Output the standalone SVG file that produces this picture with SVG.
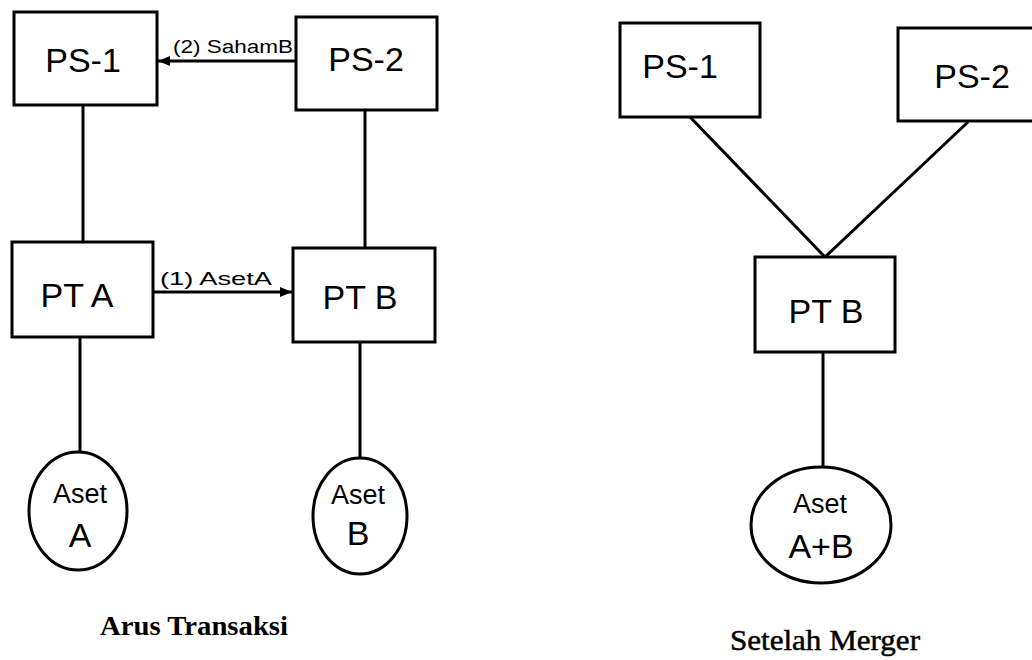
<svg xmlns="http://www.w3.org/2000/svg" width="1032" height="660" viewBox="0 0 1032 660">
<style>
.box{fill:#fff;stroke:#000;stroke-width:3}
.con{fill:none;stroke:#000;stroke-width:3}
.lbl{font-family:"Liberation Sans",Arial,sans-serif;font-size:34px;fill:#000;text-anchor:middle}
.sm{font-family:"Liberation Sans",Arial,sans-serif;font-size:27px;fill:#000;text-anchor:middle}
.el{font-family:"Liberation Sans",Arial,sans-serif;font-size:18px;fill:#000}
.cap{font-family:"Liberation Serif","Times New Roman",serif;fill:#000;text-anchor:middle}
</style>
<defs>
<marker id="ah" viewBox="0 0 12 10" refX="12" refY="5" markerWidth="12" markerHeight="10" markerUnits="userSpaceOnUse" orient="auto">
<path d="M0,0 L12,5 L0,10 Z" fill="#000"/>
</marker>
</defs>
<g id="connectors">
<line class="con" x1="83" y1="105" x2="83" y2="242"/>
<line class="con" x1="365" y1="110" x2="365" y2="248"/>
<line class="con" x1="80" y1="337" x2="80" y2="452"/>
<line class="con" x1="360" y1="342" x2="360" y2="458"/>
<line class="con" x1="296" y1="61" x2="158" y2="61" marker-end="url(#ah)"/>
<line class="con" x1="153" y1="292" x2="292" y2="292" marker-end="url(#ah)"/>
<line class="con" x1="690" y1="117" x2="825" y2="257"/>
<line class="con" x1="968" y1="122" x2="825" y2="257"/>
<line class="con" x1="823" y1="352" x2="823" y2="467"/>
<text class="el" x="173" y="53" textLength="120" lengthAdjust="spacingAndGlyphs">(2) SahamB</text>
<text class="el" x="160" y="285" font-size="22" textLength="112" lengthAdjust="spacingAndGlyphs">(1) AsetA</text>
</g>
<g id="ps1-left">
<rect class="box" x="14" y="12" width="143" height="93"/>
<text class="lbl" x="83" y="72">PS-1</text>
</g>
<g id="ps2-left">
<rect class="box" x="296" y="17" width="141" height="93"/>
<text class="lbl" x="366" y="71">PS-2</text>
</g>
<g id="pta">
<rect class="box" x="12" y="242" width="141" height="95"/>
<text class="lbl" x="77" y="307">PT A</text>
</g>
<g id="ptb-left">
<rect class="box" x="293" y="248" width="142" height="94"/>
<text class="lbl" x="360" y="309">PT B</text>
</g>
<g id="aset-a">
<ellipse class="box" cx="78" cy="511" rx="49" ry="59"/>
<text class="sm" x="80" y="503">Aset</text>
<text class="lbl" x="80" y="547">A</text>
</g>
<g id="aset-b">
<ellipse class="box" cx="360" cy="516" rx="47" ry="58"/>
<text class="sm" x="358" y="504">Aset</text>
<text class="lbl" x="358" y="545">B</text>
</g>
<g id="ps1-right">
<rect class="box" x="620" y="23" width="140" height="94"/>
<text class="lbl" x="680" y="78">PS-1</text>
</g>
<g id="ps2-right">
<rect class="box" x="898" y="28" width="150" height="93"/>
<text class="lbl" x="972" y="88">PS-2</text>
</g>
<g id="ptb-right">
<rect class="box" x="755" y="257" width="140" height="95"/>
<text class="lbl" x="826" y="323">PT B</text>
</g>
<g id="aset-ab">
<ellipse class="box" cx="821" cy="525" rx="70" ry="58"/>
<text class="sm" x="820" y="513">Aset</text>
<text class="lbl" x="821" y="558">A+B</text>
</g>
<g id="captions">
<text class="cap" x="194" y="635" font-size="27" font-weight="bold" textLength="188" lengthAdjust="spacingAndGlyphs">Arus Transaksi</text>
<text class="cap" x="825" y="650" font-size="29" stroke="#000" stroke-width="0.5" textLength="190" lengthAdjust="spacingAndGlyphs">Setelah Merger</text>
</g>
</svg>
